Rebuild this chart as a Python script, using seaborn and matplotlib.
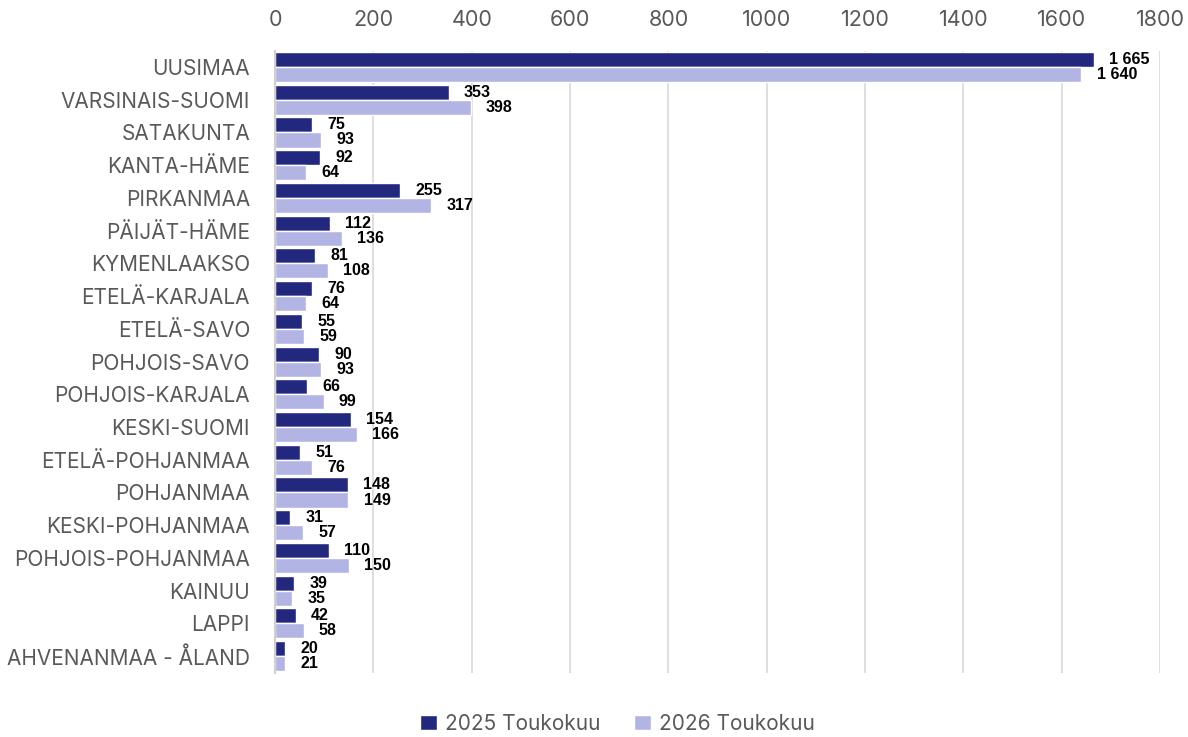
import pandas as pd
import seaborn as sns
import matplotlib.pyplot as plt

regions = ["UUSIMAA", "VARSINAIS-SUOMI", "SATAKUNTA", "KANTA-HÄME", "PIRKANMAA",
           "PÄIJÄT-HÄME", "KYMENLAAKSO", "ETELÄ-KARJALA", "ETELÄ-SAVO",
           "POHJOIS-SAVO", "POHJOIS-KARJALA", "KESKI-SUOMI", "ETELÄ-POHJANMAA",
           "POHJANMAA", "KESKI-POHJANMAA", "POHJOIS-POHJANMAA", "KAINUU", "LAPPI",
           "AHVENANMAA - ÅLAND"]
v2025 = [1665, 353, 75, 92, 255, 112, 81, 76, 55, 90, 66, 154, 51, 148, 31, 110, 39, 42, 20]
v2026 = [1640, 398, 93, 64, 317, 136, 108, 64, 59, 93, 99, 166, 76, 149, 57, 150, 35, 58, 21]
series = ["2025 Toukokuu", "2026 Toukokuu"]
colors = ["#23287F", "#B2B5E3"]
xticks = [0, 200, 400, 600, 800, 1000, 1200, 1400, 1600, 1800]

df = pd.DataFrame({
    "Region": regions * 2,
    "Value": v2025 + v2026,
    "Series": [series[0]] * len(regions) + [series[1]] * len(regions),
})

sns.set_style("white")
plt.rcParams["font.family"] = ["Inter", "DejaVu Sans"]

fig = plt.figure(figsize=(11.88, 7.37), dpi=100)
ax = fig.add_axes([0.2315, 0.0875, 0.745, 0.8438])
sns.barplot(data=df, y="Region", x="Value", hue="Series", orient="h",
            palette=colors, width=0.92, saturation=1, ax=ax, legend=True)

def fmt(v):
    return f"{v:,}".replace(",", " ")

for cont, vals in zip(ax.containers, [v2025, v2026]):
    ax.bar_label(cont, labels=[fmt(v) for v in vals], padding=11,
                 fontsize=11.5, fontweight="bold", color="black",
                 family=["Liberation Sans", "DejaVu Sans"])

ax.set_xlim(0, 1800)
ax.set_ylim(len(regions) - 0.5, -0.5)
ax.set_xticks(xticks)
ax.xaxis.tick_top()
ax.tick_params(axis="x", length=0, labelsize=15.5, labelcolor="#595959", pad=15)
ax.tick_params(axis="y", length=0, labelsize=15, labelcolor="#595959", pad=18)
ax.grid(axis="x", color="#D9D9D9", linewidth=1.2)
ax.set_axisbelow(True)
for s in ["top", "right", "bottom"]:
    ax.spines[s].set_visible(False)
ax.spines["left"].set_color("#D0D0D0")
ax.spines["left"].set_linewidth(1.5)
ax.set_xlabel("")
ax.set_ylabel("")

handles, labels = ax.get_legend_handles_labels()
ax.get_legend().remove()
leg = fig.legend(handles, labels, loc="center", bbox_to_anchor=(0.52, 0.018), ncol=2,
                 frameon=False, fontsize=15, handlelength=0.8, handleheight=0.8,
                 columnspacing=1.6, handletextpad=0.4)
for t in leg.get_texts():
    t.set_color("#595959")

fig.savefig("out.png", dpi=100)
